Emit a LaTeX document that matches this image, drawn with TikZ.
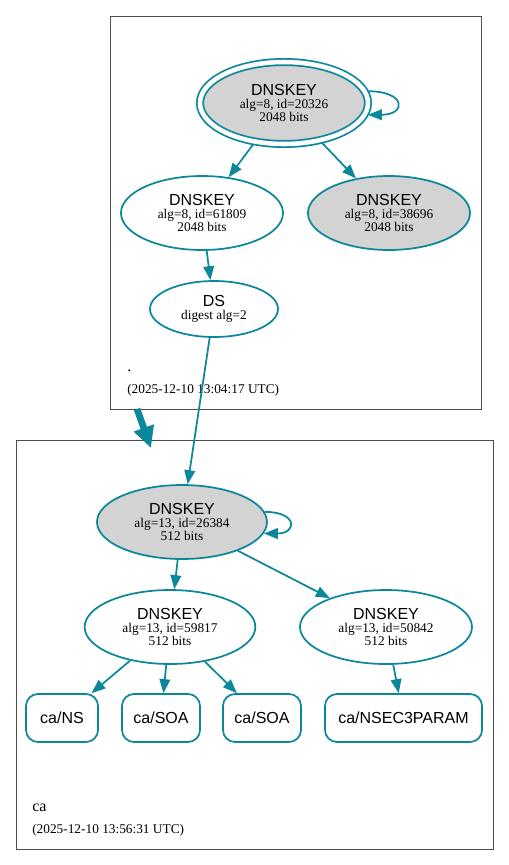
\documentclass[tikz,border=0pt]{standalone}
\usepackage{fontspec}
\setmainfont{Liberation Serif}
\setsansfont{Liberation Sans}
\usepackage{tikz}
\usetikzlibrary{shapes.geometric,arrows.meta}
\definecolor{dnsteal}{HTML}{0A879A}
\definecolor{keygray}{HTML}{D3D3D3}
\newcommand{\hvfont}{\sffamily\fontsize{12}{10}\selectfont}

\begin{document}
\begin{tikzpicture}[x=0.75pt,y=-0.75pt]
        \tikzstyle{every node} = [inner sep=0pt, align=center, font=\fontsize{10}{10}\selectfont]
        \tikzstyle{key} = [ellipse, draw=dnsteal, line width=1.3pt, minimum width=121.5pt, minimum height=55.5pt]
        \tikzstyle{sep} = [key, fill=keygray]
        \tikzstyle{ksk} = [sep, double=white, double distance=3.4pt, minimum width=126pt, minimum height=61.5pt, outer sep=2.3pt]
        \tikzstyle{rrset} = [rectangle, rounded corners=9pt, draw=dnsteal, line width=1.3pt, minimum width=58.5pt, minimum height=36pt, font=\hvfont]
        \tikzstyle{zone} = [draw=black!70, line width=0.75pt]
        \tikzstyle{signs} = [draw=dnsteal, line width=1.3pt, -{Triangle[length=10.5pt,width=8pt]}]
        \tikzstyle{delegation} = [draw=dnsteal, line width=5pt, -{Triangle[length=16pt,width=15pt]}]
        \useasboundingbox (0,0) rectangle (509,865);

        % zones
        \draw[zone] (110,16) rectangle (481,409);
        \draw[zone] (16,440) rectangle (493,849);
        \node[anchor=base west, font=\fontsize{12}{12}\selectfont] (dotname) at (127,371) {.};
        \node[anchor=base west] (dottime) at (127,393.5) {(2025-12-10 13:04:17 UTC)};
        \node[anchor=base west, font=\fontsize{12}{12}\selectfont] (caname) at (32,811) {ca};
        \node[anchor=base west] (catime) at (32,833) {(2025-12-10 13:56:31 UTC)};

        % keys of .
        \node[ksk] (k20326) at (284,103) {{\hvfont DNSKEY}\\alg=8, id=20326\\2048 bits};
        \node[key] (k61809) at (202,213) {{\hvfont DNSKEY}\\alg=8, id=61809\\2048 bits};
        \node[sep] (k38696) at (389,213) {{\hvfont DNSKEY}\\alg=8, id=38696\\2048 bits};
        \node[key, minimum width=96pt, minimum height=42pt] (ds) at (214,309) {{\hvfont DS}\\digest alg=2};

        % keys and rrsets of ca
        \node[sep, minimum width=127.5pt] (k26384) at (182,522) {{\hvfont DNSKEY}\\alg=13, id=26384\\512 bits};
        \node[key, minimum width=128pt] (k59817) at (170,627) {{\hvfont DNSKEY}\\alg=13, id=59817\\512 bits};
        \node[key, minimum width=129pt] (k50842) at (386,627) {{\hvfont DNSKEY}\\alg=13, id=50842\\512 bits};
        \node[rrset, minimum width=54pt] (ns) at (62,718) {ca/NS};
        \node[rrset] (soa1) at (161,718) {ca/SOA};
        \node[rrset] (soa2) at (262,718) {ca/SOA};
        \node[rrset, minimum width=117.75pt] (nsec3param) at (403.5,718) {ca/NSEC3PARAM};

        \foreach \from/\to in {k20326/k61809, k20326/k38696, k61809/ds, ds/k26384,
        k26384/k59817, k26384/k50842, k59817/ns, k59817/soa1, k59817/soa2, k50842/nsec3param}
            \draw[signs] (\from) -- (\to);

        % self signatures
        \draw[signs] (k20326.8) to[out=0, in=0, distance=29pt] (k20326.-8);
        \draw[signs] (k26384.7) to[out=0, in=0, distance=25pt] (k26384.-8);

        % delegation
        \coordinate (dottail) at (137,409);
        \coordinate (cahead) at (151,448);
        \draw[delegation] (dottail) -- (cahead);
    \end{tikzpicture}
\end{document}
